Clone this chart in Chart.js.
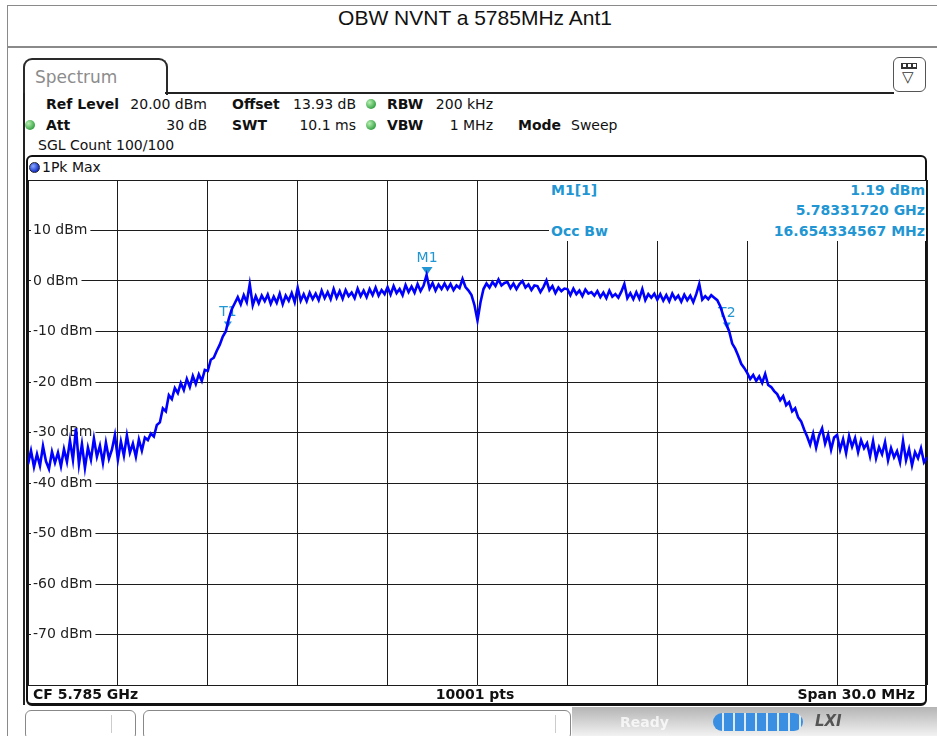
<!DOCTYPE html>
<html>
<head>
<meta charset="utf-8">
<script src="https://cdn.jsdelivr.net/npm/chart.js@4.4.1/dist/chart.umd.min.js"></script>
<style>
  body { margin: 0; width: 937px; height: 736px; overflow: hidden; background: #fff; position: relative; font-family: "DejaVu Sans", sans-serif; color: #111; }
  .abs { position: absolute; }
  .t { position: absolute; font-size: 14px; line-height: 16px; white-space: nowrap; }
  .b { font-weight: bold; }
  .r { text-align: right; }
  .dot { position: absolute; width: 10px; height: 10px; border-radius: 50%; }
  .green { background: radial-gradient(circle at 35% 35%, #b6f0b0, #3aa548 70%); }
  .mk { color: #2196d3; font-weight: bold; }
</style>
</head>
<body>
<div class="abs" style="left:7px;top:5px;width:940px;height:740px;border-left:1px solid #8a8a8a;border-top:1px solid #8a8a8a;"></div>
<div class="abs" style="left:8px;top:6px;width:934px;height:40px;border-bottom:2px solid #8a8a8a;text-align:center;line-height:41px;font:21px 'Liberation Sans', Arial, sans-serif;color:#111;">OBW NVNT a 5785MHz Ant1</div>

<!-- instrument frame -->
<div class="abs" style="left:23px;top:58px;width:141px;height:35px;border:2px solid #2a2a2a;border-bottom:none;border-radius:9px 9px 0 0;"></div>
<div class="t" style="left:35px;top:67px;font-size:17px;line-height:20px;color:#8c8c8c;">Spectrum</div>
<div class="abs" style="left:165px;top:92px;width:729px;border-top:2px solid #222;"></div>
<div class="abs" style="left:23px;top:93px;height:612px;border-left:2px solid #222;"></div>
<div class="abs" style="left:893px;top:57px;width:31px;height:33px;border:1.5px solid #555;border-radius:6px;background:#fff;">
  <div class="abs" style="left:7px;top:5px;width:16px;height:6px;background:#333;"></div>
  <div class="abs" style="left:9px;top:6px;width:3px;height:3px;background:#fff;"></div>
  <div class="abs" style="left:14px;top:6px;width:3px;height:3px;background:#fff;"></div>
  <div class="abs" style="left:19px;top:6px;width:3px;height:3px;background:#fff;"></div>
  <div class="abs" style="left:8px;top:10px;font-size:15px;line-height:18px;color:#333;">&#9661;</div>
</div>

<div class="t b" style="left:46px;top:96px;">Ref Level</div>
<div class="t r" style="left:110px;top:96px;width:97px;">20.00 dBm</div>
<div class="t b" style="left:232px;top:96px;">Offset</div>
<div class="t r" style="left:280px;top:96px;width:76px;">13.93 dB</div>
<div class="dot green" style="left:366px;top:99px;"></div>
<div class="t b" style="left:387px;top:96px;">RBW</div>
<div class="t r" style="left:420px;top:96px;width:73px;">200 kHz</div>

<div class="dot green" style="left:25px;top:120px;"></div>
<div class="t b" style="left:46px;top:117px;">Att</div>
<div class="t r" style="left:150px;top:117px;width:57px;">30 dB</div>
<div class="t b" style="left:232px;top:117px;">SWT</div>
<div class="t r" style="left:280px;top:117px;width:76px;">10.1 ms</div>
<div class="dot green" style="left:366px;top:120px;"></div>
<div class="t b" style="left:387px;top:117px;">VBW</div>
<div class="t r" style="left:430px;top:117px;width:63px;">1 MHz</div>
<div class="t b" style="left:518px;top:117px;">Mode</div>
<div class="t" style="left:571px;top:117px;">Sweep</div>

<div class="t" style="left:38px;top:137px;">SGL Count 100/100</div>

<!-- diagram box -->
<div class="abs" style="left:26px;top:155px;width:897px;height:546px;border:2px solid #111;border-bottom-width:3px;border-radius:6px;"></div>
<div class="dot" style="left:29px;top:162px;background:radial-gradient(circle at 35% 35%, #8aa8ff, #1432c8 70%);border:1px solid #223;width:9px;height:9px;"></div>
<div class="t" style="left:42px;top:159px;">1Pk Max</div>

<canvas id="chart" width="912" height="520" class="abs" style="left:20px;top:170px;"></canvas>

<div class="abs" style="left:549px;top:181px;width:377px;height:60px;background:#fff;"></div>
<div class="t mk" style="left:551px;top:182px;">M1[1]</div>
<div class="t mk r" style="left:700px;top:182px;width:225px;">1.19 dBm</div>
<div class="t mk r" style="left:700px;top:202px;width:225px;">5.78331720 GHz</div>
<div class="t mk" style="left:551px;top:223px;">Occ Bw</div>
<div class="t mk r" style="left:700px;top:223px;width:225px;">16.654334567 MHz</div>

<div class="t b" style="left:33px;top:686px;">CF 5.785 GHz</div>
<div class="t b" style="left:375px;top:686px;width:200px;text-align:center;">10001 pts</div>
<div class="t b r" style="left:715px;top:686px;width:200px;">Span 30.0 MHz</div>

<!-- status bar -->
<div class="abs" style="left:572px;top:707px;width:365px;height:29px;background:linear-gradient(#b4b4b4,#f2f2f2);"></div>
<div class="abs" style="left:25px;top:710px;width:109px;height:28px;border:1px solid #888;border-radius:6px;background:#fff;"></div>
<div class="abs" style="left:111px;top:715px;height:18px;border-left:1px solid #ccc;"></div>
<div class="abs" style="left:143px;top:710px;width:426px;height:28px;border:1px solid #888;border-radius:6px;background:#fff;"></div>
<div class="abs" style="left:555px;top:715px;height:18px;border-left:1px solid #ccc;"></div>
<div class="t b" style="left:620px;top:714px;color:rgba(255,255,255,0.75);">Ready</div>
<div class="abs" style="left:713px;top:713px;width:90px;height:18px;border-radius:9px;background:repeating-linear-gradient(90deg,#3b8fe2 0,#3b8fe2 9px,#dceaf8 9px,#dceaf8 11px);"></div>
<div class="t b" style="left:815px;top:713px;font-style:italic;font-size:15px;color:#555;">LXI</div>

<script>
// sweep: 5770 .. 5800 MHz, one reading every 0.1 MHz
const startMHz = 5770;
const stepMHz = 0.1;
const traceDbm = [
  -36.3, -33.6, -36.8, -34.3, -36.6, -32.7, -35.7, -37.2, -33.8, -36.0,
  -34.0, -36.7, -33.3, -35.8, -31.6, -35.4, -29.2, -36.3, -32.3, -37.0,
  -33.0, -35.4, -31.2, -34.8, -32.6, -36.0, -32.0, -35.2, -33.4, -30.5,
  -35.4, -31.8, -34.6, -30.6, -34.0, -32.2, -34.8, -31.4, -33.6, -31.0,
  -31.5, -30.2, -30.8, -28.5, -28.0, -25.2, -25.8, -22.6, -23.4, -21.2,
  -22.2, -20.2, -21.6, -19.4, -21.0, -18.8, -20.4, -18.5, -19.8, -17.6,
  -17.8, -15.6, -15.2, -13.8, -12.6, -11.0, -10.0, -7.5, -5.6, -4.4,
  -3.2, -4.6, -2.8, -4.2, -0.6, -4.8, -3.0, -4.4, -2.9, -4.0,
  -2.7, -4.5, -3.1, -4.3, -2.5, -4.6, -2.9, -3.9, -2.4, -4.2,
  -1.3, -3.9, -2.6, -4.0, -2.3, -3.6, -2.5, -3.8, -1.9, -3.4,
  -2.2, -3.6, -1.6, -3.3, -2.0, -3.5, -1.8, -3.0, -2.3, -3.4,
  -1.5, -3.0, -1.9, -3.2, -1.6, -2.8, -1.3, -2.9, -1.8, -2.6,
  -1.2, -2.7, -1.0, -2.4, -1.6, -2.8, -0.8, -2.2, -1.1, -2.3,
  -0.6, -2.0, -0.9, 1.19, -1.5, -0.4, -1.9, -0.7, -1.6, -0.5,
  -1.6, -0.6, -1.8, -0.9, -1.4, 0.4, -1.2, -1.9, -2.8, -4.8,
  -7.8, -4.2, -1.6, -0.5, -1.3, -0.2, -1.0, 0.3, -0.9, -0.4,
  -0.2, -1.4, -0.5, -1.6, -0.6, 0.0, -1.3, -0.7, -1.8, -0.9,
  -1.0, -2.2, -1.2, 0.1, -1.8, -1.0, -2.4, -1.3, -2.0, -1.5,
  -1.6, -2.8, -1.5, -2.6, -1.9, -3.0, -1.7, -2.5, -2.2, -2.9,
  -2.0, -3.2, -2.3, -3.4, -1.9, -3.1, -2.6, -3.3, -2.1, -0.6,
  -3.4, -2.4, -3.6, -2.2, -3.5, -1.6, -3.8, -2.6, -3.3, -2.5,
  -3.7, -2.6, -3.9, -2.8, -4.0, -2.5, -3.6, -2.9, -4.1, -2.7,
  -3.8, -2.9, -4.2, -2.6, -0.6, -3.7, -3.0, -3.6, -2.8, -3.3,
  -3.8, -5.0, -6.8, -8.5, -10.0, -12.4, -13.4, -14.8, -16.4, -17.2,
  -18.2, -19.4, -18.6, -19.8, -18.9, -20.2, -18.4, -20.6, -21.0, -21.8,
  -22.4, -23.6, -22.8, -24.6, -24.0, -25.8, -25.2, -27.0, -27.8, -29.4,
  -30.8, -32.4, -30.2, -33.0, -30.6, -29.2, -32.2, -30.4, -33.4, -31.0,
  -30.5, -33.4, -31.3, -34.1, -30.7, -32.8, -31.1, -33.9, -31.5, -33.1,
  -32.1, -34.7, -31.7, -35.1, -32.9, -34.3, -31.9, -35.5, -33.1, -34.9,
  -33.7, -35.9, -31.7, -35.5, -33.3, -36.5, -33.9, -35.1, -33.1, -35.9,
  -34.9
];

const xTicks = [5770, 5773, 5776, 5779, 5782, 5785, 5788, 5791, 5794, 5797, 5800];
const yTicks = [20, 10, 0, -10, -20, -30, -40, -50, -60, -70, -80];
const yLabels = ['', '10 dBm', '0 dBm', '-10 dBm', '-20 dBm', '-30 dBm', '-40 dBm', '-50 dBm', '-60 dBm', '-70 dBm', ''];

const markerNames = ['M1', 'T1', 'T2'];
const markerFreqs = [5783.3172, 5776.67, 5793.32];
const markerLevels = [1.19, -9.2, -9.4];
const markerColor = '#2196d3';

const markers = {
    id: 'markers',
    beforeDatasetsDraw(chart) {
        const { ctx, scales: { x, y } } = chart;
        ctx.save();
        ctx.fillStyle = markerColor;
        ctx.font = '14px "DejaVu Sans"';
        ctx.textAlign = 'center';
        markerNames.forEach((name, i) => {
            const px = x.getPixelForValue(markerFreqs[i]);
            const py = y.getPixelForValue(markerLevels[i]);
            const w = i === 0 ? 5.5 : 4;
            const h = i === 0 ? 8 : 6;
            ctx.beginPath();
            ctx.moveTo(px - w, py - h);
            ctx.lineTo(px + w, py - h);
            ctx.lineTo(px, py);
            ctx.closePath();
            ctx.fill();
            ctx.fillText(name, px, py - h - 5);
        });
        ctx.restore();
    }
};

const gridColor = '#1c1c1c';

new Chart(document.getElementById('chart').getContext('2d'), {
    type: 'line',
    data: {
        datasets: [{
            data: traceDbm.map((v, i) => ({ x: startMHz + i * stepMHz, y: v })),
            borderColor: '#0000ff',
            borderWidth: 2.6,
            pointRadius: 0,
            tension: 0
        }]
    },
    options: {
        responsive: false,
        animation: false,
        layout: { padding: { left: 8, top: 10, right: 5, bottom: 5 } },
        plugins: { legend: { display: false }, tooltip: { enabled: false } },
        scales: {
            x: {
                type: 'linear',
                min: 5770,
                max: 5800,
                afterBuildTicks: s => { s.ticks = xTicks.map(v => ({ value: v })); },
                afterFit: s => { s.height = 0; s.paddingLeft = 0; s.paddingRight = 0; },
                ticks: { display: false, autoSkip: false },
                grid: { color: gridColor, lineWidth: 1, drawTicks: false },
                border: { display: false }
            },
            y: {
                min: -80,
                max: 20,
                afterBuildTicks: s => { s.ticks = yTicks.map(v => ({ value: v })); },
                afterFit: s => { s.width = 0; s.paddingTop = 0; s.paddingBottom = 0; },
                ticks: {
                    mirror: true,
                    padding: 5,
                    autoSkip: false,
                    color: '#222',
                    font: { family: 'DejaVu Sans', size: 14 },
                    callback: v => yLabels[yTicks.indexOf(v)],
                    showLabelBackdrop: c => yLabels[c.index] !== '',
                    backdropColor: '#fff',
                    backdropPadding: { left: 2, right: 3, top: 0, bottom: 0 }
                },
                grid: { color: gridColor, lineWidth: 1, drawTicks: false },
                border: { display: false }
            }
        }
    },
    plugins: [markers]
});
</script>
</body>
</html>
